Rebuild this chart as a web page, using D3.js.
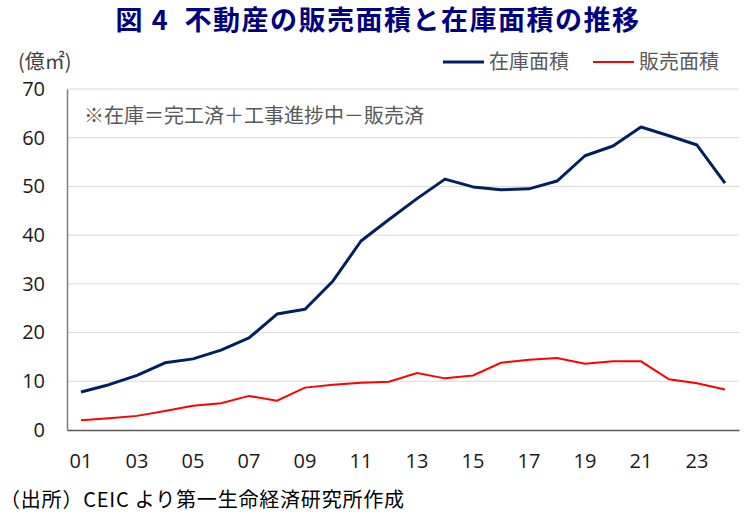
<!DOCTYPE html>
<html>
<head>
<meta charset="utf-8">
<script src="https://cdn.jsdelivr.net/npm/d3@7"></script>
<style>
  body { margin: 0; background: #fff; }
  svg { font-family: "Noto Sans CJK JP", sans-serif; }
</style>
</head>
<body>
<div id="chart"></div>
<script>
// years 2001-2024
const years = ["01","02","03","04","05","06","07","08","09","10","11","12",
               "13","14","15","16","17","18","19","20","21","22","23","24"];
const stock = [7.8, 9.3, 11.2, 13.8, 14.6, 16.4, 18.9, 23.8, 24.8, 30.6, 38.8, 43.2,
               47.5, 51.5, 49.9, 49.3, 49.5, 51.1, 56.3, 58.3, 62.2, 60.4, 58.5, 50.7];
const sales = [2.0, 2.4, 2.9, 3.9, 5.0, 5.5, 7.0, 6.0, 8.7, 9.3, 9.7, 9.9,
               11.7, 10.6, 11.2, 13.8, 14.4, 14.8, 13.6, 14.1, 14.1, 10.4, 9.6, 8.3];
const yTicks = [0, 10, 20, 30, 40, 50, 60, 70];

const width = 750, height = 516,
      margin = ({ top: 89, right: 11, bottom: 86, left: 67 });

let svg = d3.select("#chart")
    .append("svg")
    .attr("width", width)
    .attr("height", height);

let x = d3.scaleBand()
    .domain(years)
    .range([margin.left, width - margin.right]);

let y = d3.scaleLinear()
    .domain([0, 70])
    .range([height - margin.bottom, margin.top]);

// gridlines
svg.append("g")
    .selectAll("line")
    .data(yTicks.filter(d => d > 0))
    .join("line")
    .attr("x1", margin.left)
    .attr("x2", width - margin.right)
    .attr("y1", d => y(d))
    .attr("y2", d => y(d))
    .attr("stroke", "#d9d9d9")
    .attr("stroke-width", 1);

// y axis
let yAxis = svg.append("g")
    .attr("transform", `translate(${margin.left},0)`)
    .call(d3.axisLeft(y).tickValues(yTicks).tickSize(0).tickPadding(22));
yAxis.select(".domain").attr("stroke", "#7f7f7f").attr("stroke-width", 1.5);
yAxis.selectAll("text")
    .attr("font-family", "'Open Sans', sans-serif")
    .attr("font-size", 20)
    .attr("fill", "#1a1a1a");

// x axis
let xAxis = svg.append("g")
    .attr("transform", `translate(0,${y(0)})`)
    .call(d3.axisBottom(x).tickValues(years.filter((d, i) => i % 2 === 0)).tickSize(0).tickPadding(24));
xAxis.select(".domain").attr("stroke", "#595959").attr("stroke-width", 1.5);
xAxis.selectAll("text")
    .attr("font-family", "'Open Sans', sans-serif")
    .attr("font-size", 20)
    .attr("fill", "#1a1a1a");

let line = d3.line()
    .x((d, i) => x(years[i]) + x.bandwidth() / 2)
    .y(d => y(d));

svg.append("path")
    .datum(sales)
    .attr("fill", "none")
    .attr("stroke", "#ff0000")
    .attr("stroke-width", 2)
    .attr("d", line);

svg.append("path")
    .datum(stock)
    .attr("fill", "none")
    .attr("stroke", "#002060")
    .attr("stroke-width", 3)
    .attr("stroke-linejoin", "round")
    .attr("d", line);

// title
svg.append("text")
    .attr("x", 378)
    .attr("y", 30)
    .attr("text-anchor", "middle")
    .attr("font-size", 27)
    .attr("font-weight", "bold")
    .attr("letter-spacing", 1.5)
    .attr("fill", "#000080")
    .style("white-space", "pre")
    .text("図 4  不動産の販売面積と在庫面積の推移");

// unit label
svg.append("text")
    .attr("x", 18)
    .attr("y", 69)
    .attr("font-size", 20)
    .attr("fill", "#404040")
    .text("(億㎡)");

// legend
const legend = [
    { name: "在庫面積", color: "#002060", w: 3, x: 443 },
    { name: "販売面積", color: "#ff0000", w: 2, x: 593 }
];
let lg = svg.append("g")
    .selectAll("g")
    .data(legend)
    .join("g")
    .attr("transform", d => `translate(${d.x},62)`);
lg.append("line")
    .attr("x1", 0).attr("x2", 41)
    .attr("stroke", d => d.color)
    .attr("stroke-width", d => d.w);
lg.append("text")
    .attr("x", 46)
    .attr("y", 7)
    .attr("font-size", 20)
    .attr("fill", "#595959")
    .text(d => d.name);

// note
svg.append("text")
    .attr("x", 84)
    .attr("y", 123)
    .attr("font-size", 20)
    .attr("fill", "#595959")
    .text("※在庫＝完工済＋工事進捗中－販売済");

// source
svg.append("text")
    .attr("x", 0)
    .attr("y", 507)
    .attr("font-size", 20)
    .attr("letter-spacing", 0.8)
    .attr("fill", "#000")
    .text("（出所）CEIC より第一生命経済研究所作成");
</script>
</body>
</html>
